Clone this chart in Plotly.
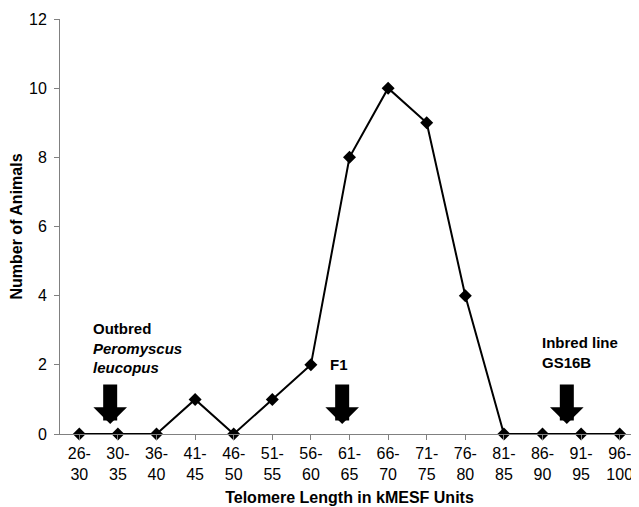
import plotly.graph_objects as go

categories = ["26-<br>30", "30-<br>35", "36-<br>40", "41-<br>45", "46-<br>50", "51-<br>55",
              "56-<br>60", "61-<br>65", "66-<br>70", "71-<br>75", "76-<br>80", "81-<br>85",
              "86-<br>90", "91-<br>95", "96-<br>100"]
animals = [0, 0, 0, 1, 0, 1, 2, 8, 10, 9, 4, 0, 0, 0, 0]
y_ticks = [0, 2, 4, 6, 8, 10, 12]

# arrow markers (positions on category axis as fractional index)
arrow_x = [0.80, 6.81, 12.63]
arrow_tip_y = [0.29, 0.29, 0.29]
label_texts = ["<b>Outbred</b><br><b><i>Peromyscus</i></b><br><b><i>leucopus</i></b>",
               "<b>F1</b>",
               "<b>Inbred line</b><br><b>GS16B</b>"]
label_x = [0.30, 6.73, 11.94]
label_y = [2.5, 2.0, 2.37]
label_anchor = ["left", "center", "left"]

FONT = "Arial, Liberation Sans, sans-serif"

fig = go.Figure()
fig.add_trace(go.Scatter(
    x=list(range(len(categories))), y=animals,
    mode="lines+markers",
    line=dict(color="black", width=2),
    marker=dict(symbol="diamond", size=10, color="black"),
    cliponaxis=False, showlegend=False,
))

annotations = []
for ax_, ty in zip(arrow_x, arrow_tip_y):
    annotations.append(dict(
        x=ax_, y=ty, xref="x", yref="y", text="", showarrow=True,
        ax=0, ay=-41, axref="pixel", ayref="pixel",
        arrowhead=1, arrowwidth=14, arrowsize=0.4, arrowcolor="black",
        standoff=0,
    ))
for t, lx, ly, anc in zip(label_texts, label_x, label_y, label_anchor):
    annotations.append(dict(
        x=lx, y=ly, xref="x", yref="y", text=t, showarrow=False,
        xanchor=anc, yanchor="middle", align="left",
        font=dict(family=FONT, size=15, color="black"),
    ))

# page body adds an 8px margin; size the figure to fit the 639x507 window
fig.update_layout(
    width=631, height=499,
    margin=dict(l=52, r=0, t=11, b=73),
    plot_bgcolor="white", paper_bgcolor="white",
    font=dict(family=FONT, size=16, color="black"),
    annotations=annotations,
    xaxis=dict(
        range=[-0.5, len(categories) - 0.5],
        tickmode="array",
        tickvals=list(range(len(categories))),
        ticktext=categories,
        showgrid=False, zeroline=False, automargin=False,
        showline=True, linecolor="#808080", linewidth=1,
        ticks="outside", ticklen=5, tickcolor="#808080",
        tickfont=dict(family=FONT, size=16, color="black"),
        title=dict(text="<b>Telomere Length in kMESF Units</b>",
                   font=dict(family=FONT, size=16, color="black"), standoff=9),
    ),
    yaxis=dict(
        range=[0, 12],
        tickmode="array", tickvals=y_ticks,
        showgrid=False, zeroline=False, automargin=False,
        showline=True, linecolor="#808080", linewidth=1,
        ticks="outside", ticklen=5, tickcolor="#808080",
        ticklabelstandoff=4,
        tickfont=dict(family=FONT, size=16, color="black"),
        title=dict(text="<b>Number of Animals</b>",
                   font=dict(family=FONT, size=16, color="black"), standoff=6),
    ),
)

fig.write_html("out.html")
